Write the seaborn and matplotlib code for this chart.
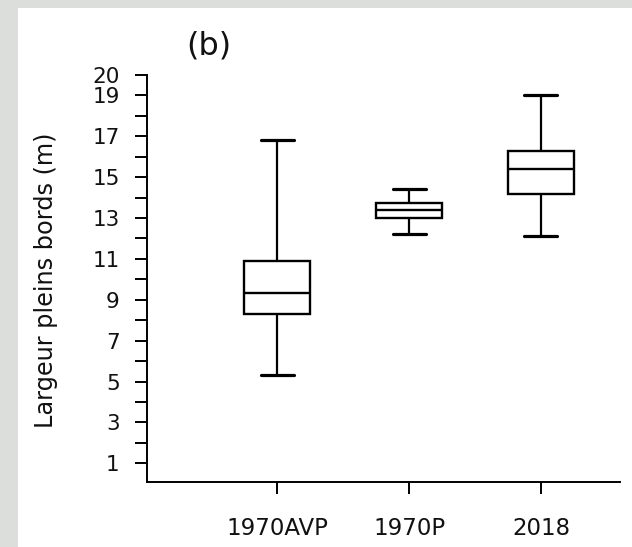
import matplotlib
matplotlib.use("Agg")
import matplotlib.pyplot as plt
from matplotlib.patches import Rectangle
import pandas as pd
import seaborn as sns

# Five-number summaries of bankfull width (m) per period
categories = ["1970AVP", "1970P", "2018"]
whisker_low = [5.3, 12.2, 12.1]
q1 = [8.3, 13.0, 14.2]
median = [9.35, 13.4, 15.4]
q3 = [10.9, 13.75, 16.3]
whisker_high = [16.8, 14.4, 19.0]

ytick_values = list(range(1, 21))
ytick_labels = ["1", "", "3", "", "5", "", "7", "", "9", "", "11", "", "13", "",
                "15", "", "17", "", "19", "20"]

rows = []
for i, cat in enumerate(categories):
    for v in (whisker_low[i], q1[i], median[i], q3[i], whisker_high[i]):
        rows.append({"periode": cat, "largeur": v})
df = pd.DataFrame(rows)

sns.set_style("ticks")
plt.rcParams["font.family"] = ["DejaVu Sans"]
plt.rcParams["text.color"] = "#111111"

W, H = 632, 547
fig = plt.figure(figsize=(W / 100, H / 100), dpi=100)
fig.patch.set_facecolor("#dcdedb")
fig.patches.append(Rectangle((18 / W, 0), 1, (H - 8) / H, transform=fig.transFigure,
                             facecolor="white", edgecolor="none", zorder=-10))

ax = fig.add_axes([147 / W, 65.3 / H, 473 / W, 406.7 / H])
ax.set_facecolor("none")
ax.set_zorder(1)

lw = 1.7
sns.boxplot(data=df, x="periode", y="largeur", order=categories, ax=ax,
            whis=(0, 100), width=0.5, color="white", linecolor="black",
            linewidth=lw, showfliers=False,
            capprops={"linewidth": 2.3},
            whiskerprops={"linewidth": 1.6})

ax.set_xlim(-0.99, 2.6)
ax.set_ylim(0.1, 20)
ax.set_yticks(ytick_values)
ax.set_yticklabels(ytick_labels)

for side in ("top", "right"):
    ax.spines[side].set_visible(False)
for side in ("left", "bottom"):
    ax.spines[side].set_linewidth(1.4)
    ax.spines[side].set_color("black")

ax.tick_params(axis="y", length=8.6, width=1.4, pad=11, labelsize=15.5,
               colors="black", labelcolor="#111111")
ax.tick_params(axis="x", length=8.6, width=1.4, pad=17, labelsize=16.5,
               colors="black", labelcolor="#111111")

ax.set_xlabel("")
ax.set_ylabel("Largeur pleins bords (m)", fontsize=17.3, color="#111111")
ax.yaxis.set_label_coords(-0.188, 0.495)

ax.text(0.131, 1.071, "(b)", transform=ax.transAxes, fontsize=23,
        ha="center", va="center")

fig.savefig("out.png", dpi=100, facecolor=fig.get_facecolor())
